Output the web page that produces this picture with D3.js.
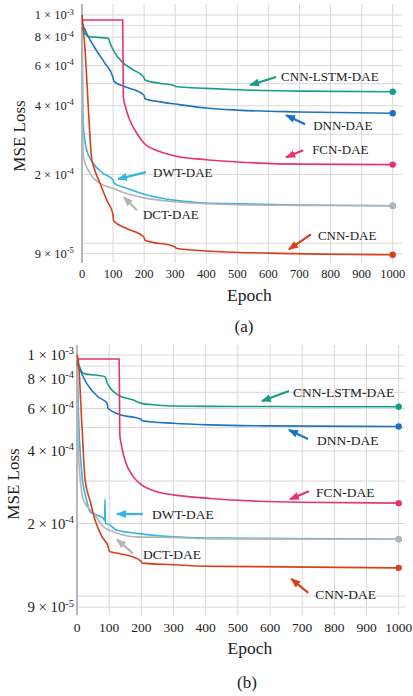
<!DOCTYPE html>
<html>
<head>
<meta charset="utf-8">
<script src="https://cdn.jsdelivr.net/npm/d3@7"></script>
<style>
  body { margin: 0; background: #fff; }
  svg { display: block; font-family: "Liberation Serif", "Times New Roman", serif; }
</style>
</head>
<body>
<svg id="chart" width="413" height="696"></svg>
<script>
// ---- data (loss values in units of 1e-4) ----
const xTicks = [0, 100, 200, 300, 400, 500, 600, 700, 800, 900, 1000];
const yTicks = [1e-3, 8e-4, 6e-4, 4e-4, 2e-4, 9e-5];
const yGrid = [9e-5, 1e-4, 2e-4, 3e-4, 4e-4, 5e-4, 6e-4, 7e-4, 8e-4, 9e-4, 1e-3];

// panel (a)
const aLstmEpoch = [0, 20, 85, 90, 106, 133, 165, 198, 203, 250, 298, 302, 400, 500, 700, 1000];
const aLstmLoss  = [8.75, 8.05, 7.9, 7.55, 6.8, 6.15, 5.75, 5.36, 5.19, 5.02, 4.9, 4.86, 4.77, 4.70, 4.64, 4.61];
const aDnnEpoch = [0, 26, 49, 74, 99, 103, 133, 199, 203, 251, 300, 400, 500, 700, 1000];
const aDnnLoss  = [9.2, 7.77, 6.9, 6.14, 5.36, 5.12, 4.88, 4.46, 4.29, 4.16, 4.07, 3.91, 3.83, 3.76, 3.71];
const aFcnEpoch = [0, 131, 133, 140, 154, 176, 200, 250, 300, 400, 500, 700, 1000];
const aFcnLoss  = [9.5, 9.5, 4.4, 3.95, 3.46, 3.04, 2.74, 2.52, 2.41, 2.32, 2.27, 2.22, 2.21];
const aDwtEpoch = [0, 2, 5, 15, 36, 69, 99, 102, 144, 200, 300, 400, 500, 700, 1000];
const aDwtLoss  = [10.0, 4.6, 3.2, 2.56, 2.24, 2.02, 1.9, 1.84, 1.74, 1.64, 1.54, 1.50, 1.49, 1.47, 1.46];
const aDctEpoch = [0, 2, 4, 26, 58, 100, 144, 200, 300, 400, 500, 700, 1000];
const aDctLoss  = [10.0, 3.5, 2.4, 2.02, 1.83, 1.74, 1.65, 1.58, 1.52, 1.49, 1.475, 1.465, 1.46];
const aCnnEpoch = [0, 10, 20, 31, 36, 58, 80, 99, 102, 144, 199, 203, 299, 303, 400, 600, 1000];
const aCnnLoss  = [10.0, 7.0, 4.0, 2.35, 2.2, 1.83, 1.54, 1.35, 1.25, 1.16, 1.065, 1.03, 0.965, 0.95, 0.925, 0.905, 0.89];

// panel (b)
const bLstmEpoch = [0, 20, 87, 95, 103, 128, 175, 201, 248, 300, 400, 600, 1000];
const bLstmLoss  = [9.53, 8.39, 8.13, 7.6, 7.3, 6.82, 6.5, 6.3, 6.2, 6.14, 6.12, 6.11, 6.1];
const bDnnEpoch = [0, 30, 65, 94, 96, 128, 199, 203, 300, 414, 600, 1000];
const bDnnLoss  = [9.24, 7.63, 6.71, 6.3, 6.01, 5.69, 5.41, 5.34, 5.21, 5.13, 5.08, 5.05];
const bFcnEpoch = [0, 131, 133, 137, 149, 175, 201, 248, 300, 414, 694, 1000];
const bFcnLoss  = [9.62, 9.62, 4.7, 4.3, 3.67, 3.13, 2.89, 2.71, 2.63, 2.54, 2.45, 2.43];
const bDwtEpoch = [0, 2, 4, 15, 30, 40, 61, 82, 86, 87, 88, 92, 123, 186, 300, 403, 1000];
const bDwtLoss  = [10.0, 8.0, 6.1, 3.23, 2.5, 2.24, 2.17, 2.1, 2.06, 2.52, 2.0, 2.0, 1.88, 1.82, 1.76, 1.74, 1.72];
const bDctEpoch = [0, 2, 5, 20, 51, 82, 113, 186, 300, 400, 1000];
const bDctLoss  = [10.0, 6.0, 3.8, 2.5, 2.21, 1.94, 1.85, 1.76, 1.75, 1.73, 1.72];
const bCnnEpoch = [0, 4, 15, 25, 40, 56, 77, 97, 101, 134, 198, 202, 300, 400, 1000];
const bCnnLoss  = [10.0, 9.5, 5.2, 3.05, 2.5, 2.07, 1.77, 1.6, 1.53, 1.5, 1.4, 1.37, 1.35, 1.33, 1.31];

const colors = {
  lstm: "#179c86", dnn: "#1b74c3", fcn: "#e9336f",
  dwt: "#33b4e6", dct: "#b4b4b4", cnn: "#d8401c"
};

const pairs = (e, l) => e.map((d, i) => [d, l[i] * 1e-4]);

const panels = [
  {
    caption: "(a)",
    xRange: [82, 392.7], gridRight: 402, yRange: [263, 4], yDomain: [8.19e-5, 1.117e-3],
    tickFont: 12.5, yTickFont: 12.5, noteFont: 13, yLabelGap: 8, xLabelY: 278, titleY: 301,
    yTitleX: 19, yTitleY: 136, captionX: 244, captionY: 332,
    series: [
      { key: "dwt", data: pairs(aDwtEpoch, aDwtLoss) },
      { key: "dct", data: pairs(aDctEpoch, aDctLoss) },
      { key: "lstm", data: pairs(aLstmEpoch, aLstmLoss) },
      { key: "dnn", data: pairs(aDnnEpoch, aDnnLoss) },
      { key: "fcn", data: pairs(aFcnEpoch, aFcnLoss) },
      { key: "cnn", data: pairs(aCnnEpoch, aCnnLoss) }
    ],
    notes: [
      { key: "lstm", label: "CNN-LSTM-DAE", tip: [541, 4.93e-4], tail: [26, -8], text: [5, -1] },
      { key: "dnn", label: "DNN-DAE", tip: [657, 3.64e-4], tail: [19, 9], text: [8, 1] },
      { key: "fcn", label: "FCN-DAE", tip: [657, 2.38e-4], tail: [17, -7], text: [9, -1] },
      { key: "dwt", label: "DWT-DAE", tip: [116, 1.91e-4], tail: [28, -7], text: [7, 0] },
      { key: "dct", label: "DCT-DAE", tip: [135, 1.59e-4], tail: [13, 13], text: [6, 4] },
      { key: "cnn", label: "CNN-DAE", tip: [666, 0.94e-4], tail: [22, -15], text: [7, 1] }
    ]
  },
  {
    caption: "(b)",
    xRange: [77, 398.7], gridRight: 405, yRange: [615, 345], yDomain: [8.35e-5, 1.10e-3],
    tickFont: 13.5, yTickFont: 14.8, noteFont: 13.5, yLabelGap: 3, xLabelY: 632, titleY: 654,
    yTitleX: 13, yTitleY: 484, captionX: 247, captionY: 688,
    series: [
      { key: "dwt", data: pairs(bDwtEpoch, bDwtLoss) },
      { key: "dct", data: pairs(bDctEpoch, bDctLoss) },
      { key: "lstm", data: pairs(bLstmEpoch, bLstmLoss) },
      { key: "dnn", data: pairs(bDnnEpoch, bDnnLoss) },
      { key: "fcn", data: pairs(bFcnEpoch, bFcnLoss) },
      { key: "cnn", data: pairs(bCnnEpoch, bCnnLoss) }
    ],
    notes: [
      { key: "lstm", label: "CNN-LSTM-DAE", tip: [575, 6.44e-4], tail: [27, -10], text: [4, 1] },
      { key: "dnn", label: "DNN-DAE", tip: [659, 4.89e-4], tail: [19, 9], text: [9, 1] },
      { key: "fcn", label: "FCN-DAE", tip: [662, 2.52e-4], tail: [19, -8], text: [7, 1] },
      { key: "dwt", label: "DWT-DAE", tip: [124, 2.19e-4], tail: [26, 0], text: [9, 0] },
      { key: "dct", label: "DCT-DAE", tip: [124, 1.72e-4], tail: [16, 14], text: [10, 1] },
      { key: "cnn", label: "CNN-DAE", tip: [666, 1.18e-4], tail: [17, 14], text: [7, 1] }
    ]
  }
];

const svg = d3.select("#chart");

// arrowheads, one per colour
const defs = svg.append("defs");
Object.entries(colors).forEach(([k, c]) => {
  defs.append("marker")
      .attr("id", "arrow-" + k)
      .attr("viewBox", "0 0 10 8")
      .attr("refX", 9)
      .attr("refY", 4)
      .attr("markerWidth", 10)
      .attr("markerHeight", 8)
      .attr("markerUnits", "userSpaceOnUse")
      .attr("orient", "auto")
    .append("path")
      .attr("d", "M0,0 L10,4 L0,8 Z")
      .attr("fill", c);
});

panels.forEach(p => drawPanel(p));

function drawPanel(p) {
  const x = d3.scaleLinear().domain([0, 1000]).range(p.xRange);
  const y = d3.scaleLog().domain(p.yDomain).range(p.yRange);
  const g = svg.append("g");

  // grid
  g.append("g")
    .selectAll("line")
    .data(yGrid)
    .join("line")
      .attr("x1", p.xRange[0]).attr("x2", p.gridRight)
      .attr("y1", d => y(d)).attr("y2", d => y(d))
      .attr("stroke", "#d8d8d8").attr("stroke-width", 1);

  g.append("g")
    .selectAll("line")
    .data(xTicks.slice(1))
    .join("line")
      .attr("x1", d => x(d)).attr("x2", d => x(d))
      .attr("y1", p.yRange[1]).attr("y2", p.yRange[0])
      .attr("stroke", "#d8d8d8").attr("stroke-width", 1);

  // left axis line
  g.append("line")
    .attr("x1", x(0)).attr("x2", x(0))
    .attr("y1", p.yRange[1]).attr("y2", p.yRange[0])
    .attr("stroke", "#b0b0b0").attr("stroke-width", 1.8);

  // x tick labels
  g.append("g")
    .selectAll("text")
    .data(xTicks)
    .join("text")
      .attr("x", d => x(d))
      .attr("y", p.xLabelY)
      .attr("text-anchor", "middle")
      .attr("font-size", p.tickFont)
      .attr("fill", "#222")
      .text(d => d);

  // y tick labels: m × 10^e
  const yl = g.append("g")
    .selectAll("text")
    .data(yTicks)
    .join("text")
      .attr("x", x(0) - p.yLabelGap)
      .attr("y", d => y(d))
      .attr("dy", "0.35em")
      .attr("text-anchor", "end")
      .attr("font-size", p.yTickFont)
      .attr("fill", "#222");
  yl.each(function (d) {
    const e = Math.floor(Math.log10(d) + 1e-9);
    const m = Math.round(d / Math.pow(10, e));
    const t = d3.select(this);
    t.append("tspan").text(m + " \u00d7 10");
    t.append("tspan")
      .attr("font-size", p.yTickFont * 0.7)
      .attr("dy", "-0.55em")
      .text(String(e));
  });

  // titles
  g.append("text")
    .attr("transform", `translate(${p.yTitleX},${p.yTitleY}) rotate(-90)`)
    .attr("text-anchor", "middle")
    .attr("dy", "0.35em")
    .attr("font-size", 17)
    .attr("fill", "#222")
    .text("MSE Loss");

  g.append("text")
    .attr("x", (p.xRange[0] + p.xRange[1]) / 2 + 12)
    .attr("y", p.titleY)
    .attr("text-anchor", "middle")
    .attr("font-size", 17.5)
    .attr("fill", "#222")
    .text("Epoch");

  g.append("text")
    .attr("x", p.captionX)
    .attr("y", p.captionY)
    .attr("text-anchor", "middle")
    .attr("font-size", 17)
    .attr("fill", "#222")
    .text(p.caption);

  // lines
  const line = d3.line()
    .x(d => x(d[0]))
    .y(d => y(d[1]))
    .curve(d3.curveMonotoneX);

  g.append("g")
    .selectAll("path")
    .data(p.series)
    .join("path")
      .attr("d", d => line(d.data))
      .attr("fill", "none")
      .attr("stroke", d => colors[d.key])
      .attr("stroke-width", 1.6)
      .attr("stroke-linejoin", "round");

  // end markers
  g.append("g")
    .selectAll("circle")
    .data(p.series)
    .join("circle")
      .attr("cx", d => x(d.data[d.data.length - 1][0]))
      .attr("cy", d => y(d.data[d.data.length - 1][1]))
      .attr("r", 3.2)
      .attr("fill", d => colors[d.key]);

  // annotations
  const notes = g.append("g")
    .selectAll("g")
    .data(p.notes)
    .join("g");

  notes.append("line")
    .attr("x1", d => x(d.tip[0]) + d.tail[0])
    .attr("y1", d => y(d.tip[1]) + d.tail[1])
    .attr("x2", d => x(d.tip[0]))
    .attr("y2", d => y(d.tip[1]))
    .attr("stroke", d => colors[d.key])
    .attr("stroke-width", 2.2)
    .attr("marker-end", d => `url(#arrow-${d.key})`);

  notes.append("text")
    .attr("x", d => x(d.tip[0]) + d.tail[0] + d.text[0])
    .attr("y", d => y(d.tip[1]) + d.tail[1] + d.text[1])
    .attr("dy", "0.35em")
    .attr("font-size", p.noteFont)
    .attr("fill", "#222")
    .text(d => d.label);
}
</script>
</body>
</html>
